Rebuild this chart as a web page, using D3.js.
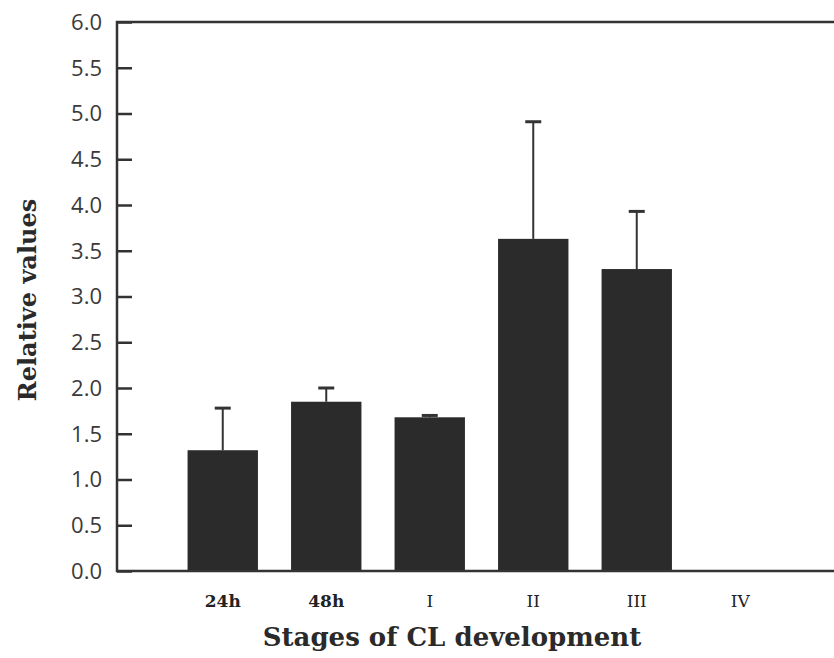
<!DOCTYPE html>
<meta charset="utf-8">
<style>
body { margin: 0; background: #fff; }
svg { display: block; }
.tick-y { font: 22px "Open Sans", sans-serif; fill: #3a3a3a; }
.tick-x { font-family: "DejaVu Serif", serif; fill: #222; }
.title { font-family: "DejaVu Serif", serif; font-weight: bold; fill: #2a2a2a; }
</style>
<body>
<script src="https://cdn.jsdelivr.net/npm/d3@7"></script>
<script>

// data
var stages = ["24h", "48h", "I", "II", "III", "IV"];
var means  = [1.32, 1.85, 1.68, 3.63, 3.30, 0];
var errTop = [1.78, 2.00, 1.70, 4.91, 3.93, 0];
var yTicks = [0, 0.5, 1, 1.5, 2, 2.5, 3, 3.5, 4, 4.5, 5, 5.5, 6];

var W = 834, H = 658;
var plotLeft = 117, plotTop = 22, plotBottom = 571;

var svg = d3.select("body").append("svg")
    .attr("width", W)
    .attr("height", H);

var y = d3.scaleLinear().domain([0, 6]).range([plotBottom, plotTop]);
var x = d3.scaleBand().domain(stages).range([171, 792]).paddingInner(0.32).paddingOuter(0.16);

// bars
svg.selectAll("rect.bar")
    .data(stages.filter(function(d, i) { return means[i] > 0; }))
  .enter().append("rect")
    .attr("class", "bar")
    .attr("x", function(d) { return x(d); })
    .attr("y", function(d) { return y(means[stages.indexOf(d)]); })
    .attr("width", x.bandwidth())
    .attr("height", function(d) { return y(0) - y(means[stages.indexOf(d)]); })
    .attr("fill", "#2b2b2b");

// error bars (upper only)
var eb = svg.selectAll("g.err")
    .data(stages.filter(function(d, i) { return errTop[i] > 0; }))
  .enter().append("g")
    .attr("class", "err")
    .attr("stroke", "#333")
    .attr("stroke-width", 2);

eb.append("line")
    .attr("x1", function(d) { return x(d) + x.bandwidth() / 2; })
    .attr("x2", function(d) { return x(d) + x.bandwidth() / 2; })
    .attr("y1", function(d) { return y(means[stages.indexOf(d)]); })
    .attr("y2", function(d) { return y(errTop[stages.indexOf(d)]); });

eb.append("line")
    .attr("stroke-width", 3)
    .attr("x1", function(d) { return x(d) + x.bandwidth() / 2 - 8; })
    .attr("x2", function(d) { return x(d) + x.bandwidth() / 2 + 8; })
    .attr("y1", function(d) { return y(errTop[stages.indexOf(d)]); })
    .attr("y2", function(d) { return y(errTop[stages.indexOf(d)]); });

// y axis, ticks pointing inward
var yAxis = svg.append("g")
    .attr("transform", "translate(" + plotLeft + ",0)")
    .call(d3.axisRight(y).tickValues(yTicks).tickSize(15).tickFormat(""));
yAxis.select(".domain").remove();
yAxis.selectAll("line").attr("stroke", "#333").attr("stroke-width", 2.5);

svg.selectAll("text.tick-y")
    .data(yTicks)
  .enter().append("text")
    .attr("class", "tick-y")
    .attr("x", 102)
    .attr("y", function(d) { return y(d); })
    .attr("dy", "0.36em")
    .attr("text-anchor", "end")
    .text(d3.format(".1f"));

// frame: left, top and bottom
svg.append("path")
    .attr("d", "M" + W + "," + plotTop + "H" + plotLeft + "V" + plotBottom + "H" + W)
    .attr("fill", "none")
    .attr("stroke", "#333")
    .attr("stroke-width", 2.5);

// x tick labels
svg.selectAll("text.tick-x")
    .data(stages)
  .enter().append("text")
    .attr("class", "tick-x")
    .attr("x", function(d) { return x(d) + x.bandwidth() / 2; })
    .attr("y", 607)
    .attr("text-anchor", "middle")
    .attr("font-size", 17)
    .attr("font-weight", function(d) { return /h$/.test(d) ? "bold" : "normal"; })
    .text(function(d) { return d; });

// axis titles
svg.append("text")
    .attr("class", "title")
    .attr("x", 452)
    .attr("y", 646)
    .attr("text-anchor", "middle")
    .attr("font-size", 26)
    .text("Stages of CL development");

svg.append("text")
    .attr("class", "title")
    .attr("transform", "translate(36,300) rotate(-90)")
    .attr("text-anchor", "middle")
    .attr("font-size", 24)
    .text("Relative values");

</script>
</body>
